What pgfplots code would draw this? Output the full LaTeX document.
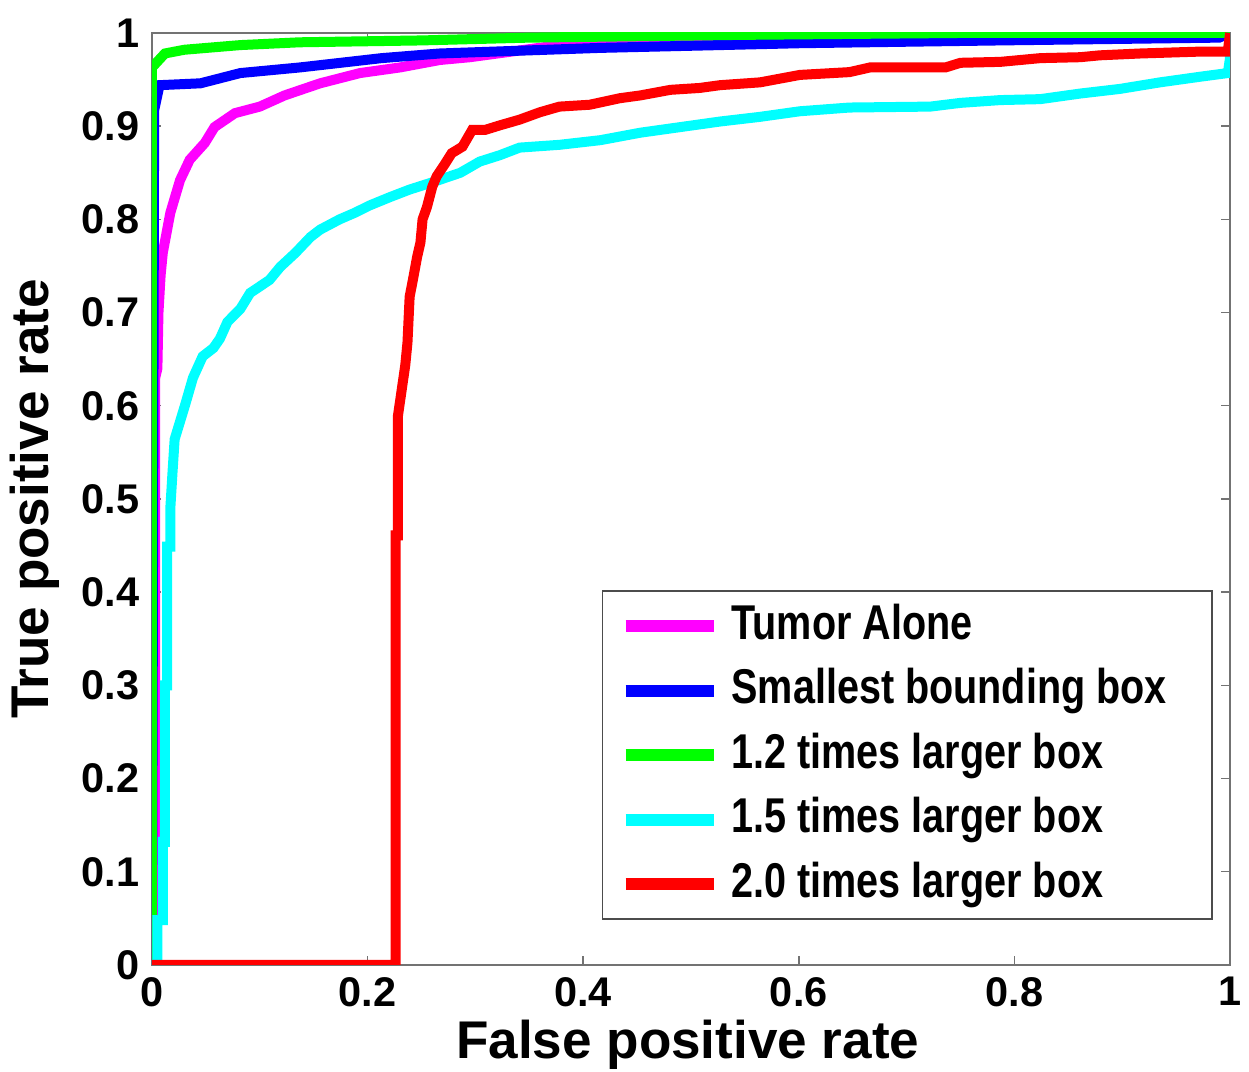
\documentclass[border=0pt]{standalone}
\usepackage{fontspec}
\setmainfont{Liberation Sans}
\newfontfamily\legfont{Liberation Sans}[FakeStretch=0.81]
\usepackage{pgfplots}
\pgfplotsset{compat=1.18}

\definecolor{cMag}{rgb}{1,0,1}
\definecolor{cBlue}{rgb}{0,0,1}
\definecolor{cGreen}{rgb}{0,1,0}
\definecolor{cCyan}{rgb}{0,1,1}
\definecolor{cRed}{rgb}{1,0,0}

\begin{document}
\begin{tikzpicture}
\begin{axis}[
    name=ax,
    scale only axis,
    width=10.78cm, height=9.32cm,
    xmin=0, xmax=1, ymin=0, ymax=1,
    xtick={0,0.2,0.4,0.6,0.8,1},
    ytick={0,0.1,0.2,0.3,0.4,0.5,0.6,0.7,0.8,0.9,1},
    tick align=inside,
    major tick length=0.09cm,
    every tick/.style={black!55, line width=0.4pt},
    axis line style={black!55, line width=0.6pt},
    /pgf/number format/assume math mode=true,
    ticklabel style={font=\fontsize{11.8}{13}\selectfont\bfseries},
    label style={font=\fontsize{15.1}{17}\selectfont\bfseries},
    xlabel={False positive rate},
    ylabel={True positive rate},
    xlabel style={at={(axis description cs:0.497,-0.086)}, anchor=center},
    ylabel style={at={(axis description cs:-0.1085,0.5)}, anchor=center},
    legend cell align=left,
    legend style={at={(0.984,0.048)}, anchor=south east,
        draw=black!70, line width=0.5pt,
        font=\legfont\fontsize{13.9}{16}\selectfont\bfseries,
        nodes={text height=0.36cm, text depth=0.1cm, inner sep=0pt},
        row sep=0.185cm, column sep=0.12cm,
        inner xsep=0.17cm, inner ysep=0.12cm},
    legend image code/.code={\draw[#1, line width=0.12cm] (0cm,0cm) -- (0.88cm,0cm);},
    every axis plot/.append style={line width=0.1cm},
]
% Tumor Alone
\addplot[cMag] coordinates {
(0,0) (0.003,0) (0.003,0.63) (0.005,0.64) (0.006,0.70) (0.008,0.74) (0.010,0.764)
(0.017,0.807) (0.026,0.842) (0.035,0.864) (0.049,0.882) (0.058,0.899)
(0.077,0.914) (0.100,0.921) (0.123,0.933) (0.156,0.946) (0.193,0.957)
(0.230,0.963) (0.267,0.971) (0.295,0.974) (0.378,0.987) (0.508,0.995)
(0.555,1) (1,1)};
\addlegendentry{Tumor Alone}
% Smallest bounding box
\addplot[cBlue] coordinates {
(0,0) (0.002,0.917) (0.007,0.944) (0.045,0.946) (0.082,0.957) (0.137,0.963)
(0.213,0.973) (0.267,0.978) (0.416,0.984) (0.601,0.989) (0.787,0.992)
(0.990,0.995) (1,1)};
\addlegendentry{Smallest bounding box\hspace*{0.28cm}}
% 1.2 times larger box
\addplot[cGreen] coordinates {
(0,0) (0,0.963) (0.012,0.978) (0.030,0.982) (0.082,0.987) (0.137,0.990)
(0.250,0.992) (0.350,0.995) (0.550,0.998) (0.750,1) (1,1)};
\addlegendentry{1.2 times larger box}
% 1.5 times larger box
\addplot[cCyan] coordinates {
(0,0) (0.005,0) (0.005,0.048) (0.010,0.048) (0.010,0.132) (0.012,0.132)
(0.012,0.300) (0.014,0.300) (0.014,0.449) (0.017,0.449) (0.017,0.490)
(0.019,0.528) (0.021,0.564) (0.026,0.583) (0.031,0.602) (0.038,0.630)
(0.047,0.653) (0.057,0.662) (0.063,0.672) (0.070,0.690) (0.082,0.704)
(0.091,0.721) (0.109,0.735) (0.119,0.749) (0.133,0.764) (0.147,0.781)
(0.156,0.789) (0.174,0.800) (0.188,0.807) (0.202,0.815) (0.221,0.824)
(0.239,0.832) (0.258,0.839) (0.286,0.850) (0.304,0.862) (0.323,0.869)
(0.341,0.877) (0.378,0.880) (0.416,0.885) (0.453,0.893) (0.490,0.899)
(0.527,0.905) (0.564,0.910) (0.601,0.916) (0.647,0.920) (0.722,0.921)
(0.750,0.925) (0.787,0.928) (0.824,0.929) (0.861,0.935) (0.898,0.940)
(0.935,0.947) (0.972,0.953) (0.998,0.957) (1,0.973) (1,1)};
\addlegendentry{1.5 times larger box}
% 2.0 times larger box
\addplot[cRed] coordinates {
(0,0) (0.226,0) (0.226,0.461) (0.228,0.461) (0.228,0.588) (0.232,0.620)
(0.235,0.644) (0.237,0.668) (0.239,0.717) (0.242,0.735) (0.246,0.760)
(0.249,0.775) (0.251,0.800) (0.255,0.813) (0.260,0.835) (0.264,0.846)
(0.272,0.860) (0.278,0.871) (0.288,0.878) (0.293,0.888) (0.297,0.896)
(0.309,0.896) (0.323,0.901) (0.341,0.907) (0.360,0.915) (0.378,0.921)
(0.406,0.923) (0.434,0.930) (0.453,0.933) (0.481,0.939) (0.508,0.941)
(0.527,0.944) (0.564,0.947) (0.601,0.955) (0.647,0.958) (0.666,0.963)
(0.736,0.963) (0.750,0.968) (0.787,0.969) (0.824,0.973) (0.861,0.974)
(0.879,0.976) (0.917,0.978) (0.972,0.980) (0.998,0.980) (1,1)};
\addlegendentry{2.0 times larger box}
\end{axis}
\pgfresetboundingbox
\path[use as bounding box] ([shift={(-1.52cm,-1.07cm)}]ax.south west) rectangle ([shift={(0.19cm,0.33cm)}]ax.north east);
\end{tikzpicture}
\end{document}
